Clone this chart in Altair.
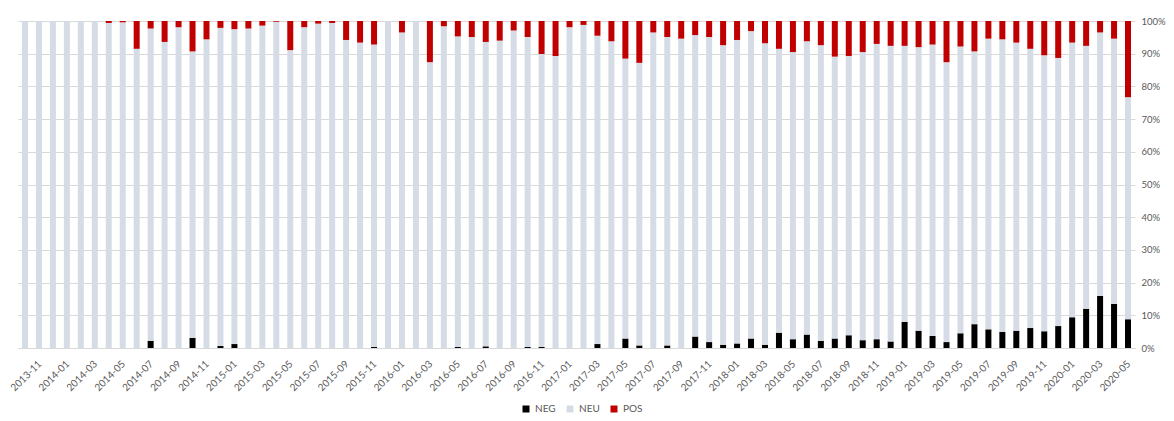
import altair as alt
import pandas as pd

months = [
    "2013-11", "2013-12",
    "2014-01", "2014-02", "2014-03", "2014-04", "2014-05", "2014-06",
    "2014-07", "2014-08", "2014-09", "2014-10", "2014-11", "2014-12",
    "2015-01", "2015-02", "2015-03", "2015-04", "2015-05", "2015-06",
    "2015-07", "2015-08", "2015-09", "2015-10", "2015-11", "2015-12",
    "2016-01", "2016-02", "2016-03", "2016-04", "2016-05", "2016-06",
    "2016-07", "2016-08", "2016-09", "2016-10", "2016-11", "2016-12",
    "2017-01", "2017-02", "2017-03", "2017-04", "2017-05", "2017-06",
    "2017-07", "2017-08", "2017-09", "2017-10", "2017-11", "2017-12",
    "2018-01", "2018-02", "2018-03", "2018-04", "2018-05", "2018-06",
    "2018-07", "2018-08", "2018-09", "2018-10", "2018-11", "2018-12",
    "2019-01", "2019-02", "2019-03", "2019-04", "2019-05", "2019-06",
    "2019-07", "2019-08", "2019-09", "2019-10", "2019-11", "2019-12",
    "2020-01", "2020-02", "2020-03", "2020-04", "2020-05", "2020-06",
]

tick_labels = [
    "2013-11", "2014-01", "2014-03", "2014-05", "2014-07", "2014-09", "2014-11",
    "2015-01", "2015-03", "2015-05", "2015-07", "2015-09", "2015-11",
    "2016-01", "2016-03", "2016-05", "2016-07", "2016-09", "2016-11",
    "2017-01", "2017-03", "2017-05", "2017-07", "2017-09", "2017-11",
    "2018-01", "2018-03", "2018-05", "2018-07", "2018-09", "2018-11",
    "2019-01", "2019-03", "2019-05", "2019-07", "2019-09", "2019-11",
    "2020-01", "2020-03", "2020-05",
]

# share of negative posts (%)
neg = [
    0, 0, 0, 0, 0, 0, 0, 0, 0, 2.2,
    0, 0, 3.1, 0, 0.6, 1.2, 0, 0, 0, 0,
    0, 0, 0, 0, 0, 0.3, 0, 0, 0, 0,
    0, 0.3, 0, 0.5, 0, 0, 0.3, 0.3, 0, 0,
    0, 1.2, 0, 2.9, 0.8, 0, 0.8, 0, 3.5, 1.8,
    1.0, 1.4, 2.9, 1.0, 4.7, 2.7, 4.1, 2.2, 2.9, 3.9,
    2.4, 2.7, 2.0, 8.0, 5.3, 3.7, 1.8, 4.5, 7.3, 5.7,
    4.9, 5.3, 6.1, 5.1, 6.7, 9.4, 12.0, 15.9, 13.5, 8.8,
]

# share of positive posts (%)
pos = [
    0, 0, 0, 0, 0, 0, 0.6, 0.4, 8.5, 2.3,
    6.4, 1.9, 9.3, 5.6, 2.1, 2.5, 2.3, 1.4, 0.2, 8.9,
    1.9, 0.8, 0.6, 5.8, 6.6, 7.2, 0, 3.5, 0, 12.6,
    1.6, 4.7, 4.9, 6.4, 6.0, 2.9, 4.9, 10.1, 10.7, 1.9,
    1.2, 4.5, 6.2, 11.5, 12.8, 3.5, 4.9, 5.4, 4.3, 4.9,
    7.4, 5.8, 3.1, 6.8, 8.5, 9.5, 6.2, 7.4, 10.9, 10.7,
    9.5, 7.0, 7.6, 7.6, 8.0, 7.2, 12.6, 7.8, 9.3, 5.4,
    5.6, 6.6, 8.5, 10.5, 11.3, 6.6, 7.6, 3.5, 5.4, 23.3,
]

# neutral share is the remainder
neu = [round(100 - p - n, 1) for p, n in zip(pos, neg)]

series = ["NEG", "NEU", "POS"]
colors = ["#000000", "#d6dce5", "#c00000"]

rows = []
for i, m in enumerate(months):
    for k, (name, vals) in enumerate(zip(series, [neg, neu, pos])):
        rows.append({"month": m, "sent": name, "v": vals[i], "o": k})
df = pd.DataFrame(rows)

FONT = "Lato"
TXT = "#595959"

chart = alt.Chart(df).mark_bar().encode(
    x=alt.X(
        "month:N",
        sort=months,
        scale=alt.Scale(paddingInner=0.57, paddingOuter=0.285),
        axis=alt.Axis(
            values=tick_labels,
            labelAngle=-45,
            labelAlign="right",
            labelBaseline="middle",
            labelOffset=15,
            labelPadding=14,
            ticks=False,
            domainColor="#d9d9d9",
            grid=False,
            title=None,
            labelFont=FONT,
            labelFontSize=10,
            labelColor=TXT,
        ),
    ),
    y=alt.Y(
        "v:Q",
        stack="normalize",
        scale=alt.Scale(domain=[0, 1]),
        axis=alt.Axis(
            orient="right",
            format=".0%",
            values=[i / 10 for i in range(11)],
            title=None,
            domain=False,
            ticks=False,
            gridColor="#d9d9d9",
            gridWidth=1,
            labelPadding=6,
            labelFont=FONT,
            labelFontSize=9.5,
            labelColor=TXT,
        ),
    ),
    color=alt.Color(
        "sent:N",
        scale=alt.Scale(domain=series, range=colors),
        legend=alt.Legend(
            orient="none",
            legendX=503,
            legendY=383,
            direction="horizontal",
            title=None,
            symbolType="square",
            symbolSize=49,
            symbolStrokeWidth=0,
            labelFont=FONT,
            labelFontSize=10,
            labelColor=TXT,
            labelOffset=4,
            columnPadding=9,
        ),
    ),
    order=alt.Order("o:Q"),
).properties(
    width=1117,
    height=327,
    autosize=alt.AutoSizeParams(type="none"),
    padding={"left": 10, "top": 13, "right": 31, "bottom": 65},
).configure_view(stroke=None)

chart.save("out.html", embed_options={"renderer": "svg", "actions": False})
